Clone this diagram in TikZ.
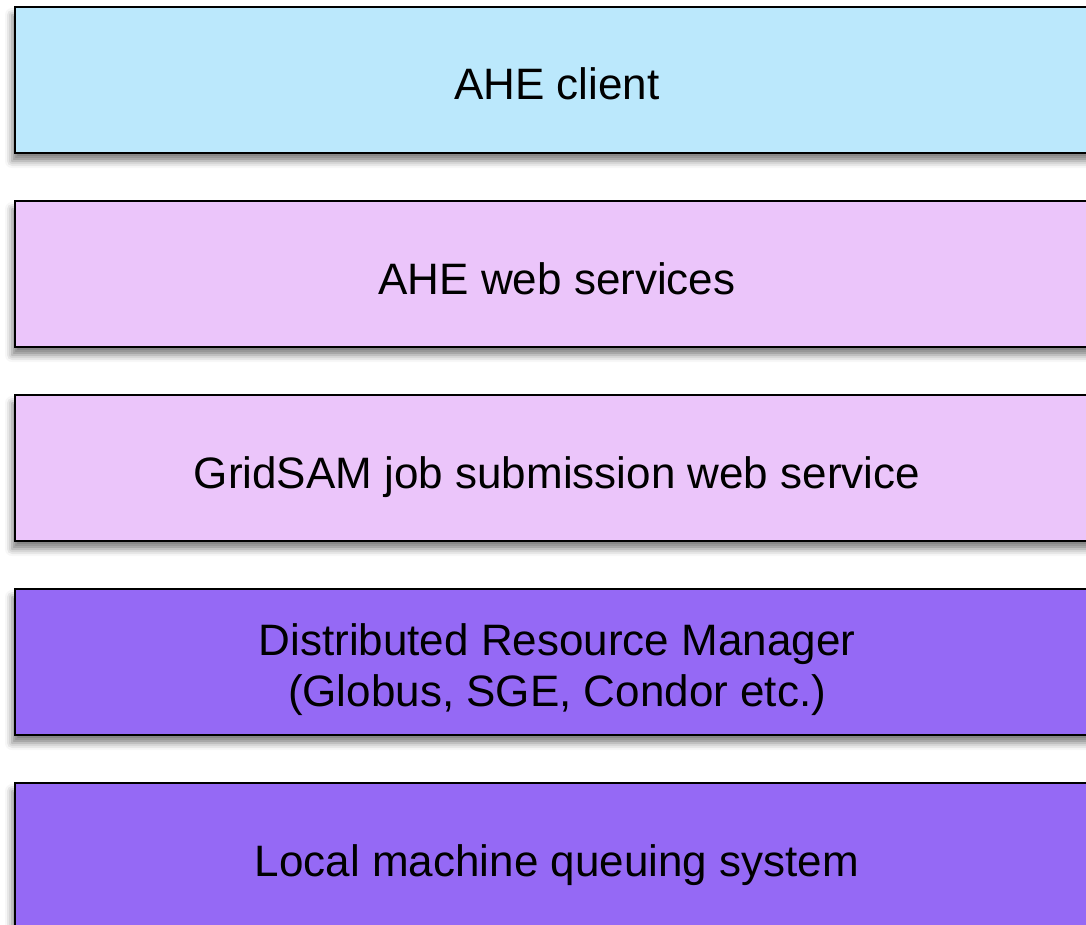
\documentclass[tikz,border=0pt]{standalone}
\usepackage{fontspec}
\setmainfont{Liberation Sans}
\usetikzlibrary{positioning,shadows.blur}
\definecolor{clientblue}{HTML}{BBE8FC}
\definecolor{servicepink}{HTML}{EBC5FA}
\definecolor{managerpurple}{HTML}{9569F5}
\tikzset{
	layer/.style={draw=black,line width=2pt,minimum width=1084pt,minimum height=146pt,
		inner sep=0pt,align=center,font=\fontsize{44}{51}\selectfont,
		blur shadow={shadow xshift=-3pt,shadow yshift=-8pt,shadow blur radius=7pt,shadow opacity=50}},
	oneline/.style={text height=46pt,text depth=6pt},
	twoline/.style={text height=97pt,text depth=9pt}
}

\begin{document}
\begin{tikzpicture}
	\clip (0,0) rectangle (1086pt,-925pt);
	%client layer
	\node [layer,oneline,fill=clientblue] (client) at (557pt,-80pt) {AHE client};
	%web service layers
	\node [layer,oneline,fill=servicepink,below=46pt of client] (ahews) {AHE web services};
	\node [layer,oneline,fill=servicepink,below=46pt of ahews] (gridsam) {GridSAM job submission web service};
	%resource layers
	\node [layer,twoline,fill=managerpurple,below=46pt of gridsam] (drm) {Distributed Resource Manager\\(Globus, SGE, Condor etc.)};
	\node [layer,oneline,fill=managerpurple,below=46pt of drm] (queue) {Local machine queuing system};
\end{tikzpicture}
\end{document}
